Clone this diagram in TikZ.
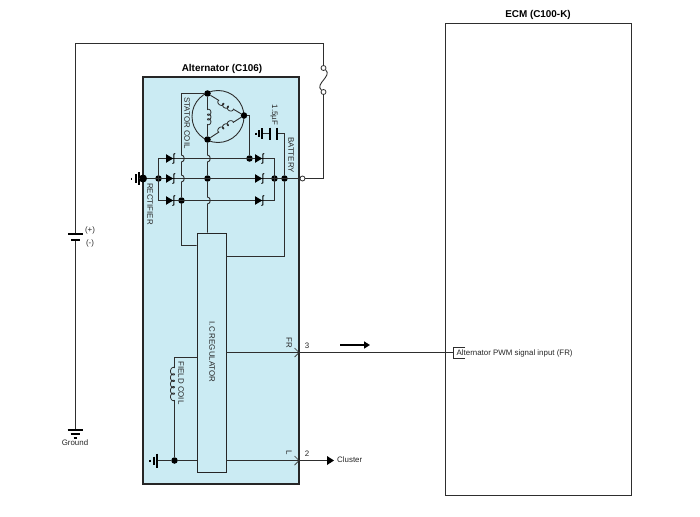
\documentclass[tikz,border=0pt]{standalone}
\usepackage{fontspec}
\setmainfont{Liberation Sans}
\usetikzlibrary{arrows.meta}
\definecolor{panel}{HTML}{CBEBF3}
\definecolor{wirec}{HTML}{2E2E2E}
\tikzset{
  wire/.style={draw=wirec,line width=0.9pt},
  plate/.style={draw=black,line width=1.2pt},
  dot/.style={circle,fill=black,inner sep=0pt,minimum size=6.5pt},
  bigdot/.style={circle,fill=black,inner sep=0pt,minimum size=8pt},
  ring/.style={circle,draw=wirec,fill=white,inner sep=0pt,minimum size=5pt,line width=0.8pt},
  lab/.style={font=\fontsize{7.9}{9}\selectfont,text=black!85,inner sep=0pt},
  rlab/.style={lab,rotate=-90},
  title/.style={font=\fontsize{9.9}{11}\selectfont\bfseries,inner sep=0pt}
}
\newcommand{\diodemark}[2]{%
  \fill[black] (#1-4,#2-4.3) -- (#1+3.2,#2) -- (#1-4,#2+4.3) -- cycle;
  \draw[black,line width=0.9pt] (#1+5.2,#2-5) -- (#1+3.8,#2-4.4) -- (#1+3.8,#2+4.4) -- (#1+2.4,#2+5);
}
% start point, screen angle, length, loops, side (+1/-1), bump size
\newcommand{\coilplot}[6]{%
  \begin{scope}[shift={#1},rotate=#2]
    \draw[wire,line width=0.8pt] plot[domain=0:360*#4,samples=40*#4]
      ({\x/(360*#4)*#3-#6*sin(\x)},{#5*#6*(1-cos(\x))});
  \end{scope}
}
\begin{document}
\begin{tikzpicture}[x=1pt,y=-1pt]
\useasboundingbox (0,0) rectangle (700,516);
% boxes
\node[draw=wirec,line width=0.9pt,minimum width=186pt,minimum height=472pt,inner sep=0pt] (ecm) at (538,259) {};
\node[title] (ecmt) at (538,15) {ECM (C100-K)};
\node[draw=black!85,fill=panel,line width=2pt,minimum width=156pt,minimum height=407pt,inner sep=0pt] (alt) at (221,280.5) {};
\node[title] (altt) at (222,69) {Alternator (C106)};
\node[draw=black!85,fill=panel,line width=0.9pt,minimum width=29pt,minimum height=239.5pt,inner sep=0pt] (ic) at (211.5,352.7) {};
\node[rlab] (icl) at (212,352) {I.C REGULATOR};
% stator
\draw[wire] (218,116.5) circle (26);
\node[dot] (st) at (207.5,93.5) {};
\node[dot] (sr) at (244,115.5) {};
\node[dot] (sb) at (207.5,139.5) {};
\coordinate (c1a) at (207.5,110); \coordinate (c1b) at (207.5,124);
\coordinate (c2a) at (219,100.5); \coordinate (c2b) at (233,109);
\coordinate (c3a) at (219,132); \coordinate (c3b) at (233,122.5);
\draw[wire] (st) -- (c1a) (c1b) -- (sb);
\draw[wire] (st) -- (c2a) (c2b) -- (sr);
\draw[wire] (sb) -- (c3a) (c3b) -- (sr);
\coilplot{(c1a)}{-90}{14}{3}{-1}{1.7}
\coilplot{(c2a)}{-31}{16.4}{3}{1}{1.7}
\coilplot{(c3a)}{34}{16.9}{3}{-1}{1.7}
% rectifier junctions
\node[bigdot] (gn) at (143,178.5) {};
\node[dot] (lb) at (158.5,178.5) {};
\node[dot] (mid) at (207.5,178.5) {};
\node[dot] (rtop) at (249.5,158.5) {};
\node[dot] (rb) at (274.5,178.5) {};
\node[dot] (bt) at (284.5,178.5) {};
\node[dot] (bot) at (181.5,200.5) {};
\node[ring] (term) at (302.5,178.5) {};
\coordinate (tl) at (158.5,158.5); \coordinate (tr) at (274.5,158.5);
\coordinate (bl) at (158.5,200.5); \coordinate (br) at (274.5,200.5);
\draw[wire] (tl) -- (tr) -- (br) -- (bl) -- cycle;
\draw[wire] (gn) -- (term);
% stator to rectifier
\draw[wire] (sr) -| (rtop);
\draw[wire] (st) -- (181.5,93.5) -- (181.5,155) .. controls (185.1,155) and (185.1,162) .. (181.5,162) -- (181.5,175) .. controls (185.1,175) and (185.1,182) .. (181.5,182) -- (bot) -- (181.5,245.5) -- (ic.west |- 0,245.5);
\draw[wire] (sb) -- (207.5,155) .. controls (211.1,155) and (211.1,162) .. (207.5,162) -- (mid) -- (207.5,197) .. controls (211.1,197) and (211.1,204) .. (207.5,204) -- (ic.north -| 207.5,0);
% diodes
\diodemark{170}{158.5}\diodemark{170}{178.5}\diodemark{170}{200.5}
\diodemark{259}{158.5}\diodemark{259}{178.5}\diodemark{259}{200.5}
% capacitor and ground
\coordinate (capg) at (262,133.5); \coordinate (capl) at (270,133.5); \coordinate (capr) at (277,133.5); \coordinate (capw) at (284.5,133.5);
\draw[wire] (capg) -- (capl) (capr) -- (capw) -- (bt);
\draw[plate] (270,127.5) -- (270,139.5) (277,127.5) -- (277,139.5);
\draw[plate] (262,128) -- (262,139) (259,130) -- (259,137) (256,132.5) -- (256,134.5);
\draw[wire] (bt) -- (284.5,256.5) -- (ic.east |- 0,256.5);
% left ground
\draw[plate] (139,172) -- (139,185) (136,174) -- (136,183) (131.5,177.5) -- (131.5,179.5);
\draw[wire] (139,178.5) -- (gn);
% field coil
\coordinate (fa) at (174.5,357.5); \coordinate (fc1) at (174.5,368); \coordinate (fc2) at (174.5,400);
\node[dot] (fg) at (174.5,460.5) {};
\draw[wire] (ic.west |- fa) -- (fa) -- (fc1) (fc2) -- (fg);
\coilplot{(fc1)}{-90}{32}{5}{1}{2}
\draw[wire] (157,460.5) -- (fg) -- (ic.west |- fg);
\draw[plate] (157,453.5) -- (157,467.5) (154,456.5) -- (154,464.5) (150,459.5) -- (150,461.5);
% outputs
\coordinate (frt) at (299,352.5); \coordinate (lt) at (299,460.5);
\coordinate (clu) at (330,460.5);
\coordinate (conn) at (453,352.5);
\draw[wire] (ic.east |- frt) -- (frt) -- (conn);
\draw[wire] (ic.east |- lt) -- (lt) -- (clu);
\fill[black] (327,456) -- (334,460.5) -- (327,465) -- cycle;
\draw[wire,line width=0.7pt] (294.5,348) -- (frt) -- (294.5,357);
\draw[wire,line width=0.7pt] (294.5,456) -- (lt) -- (294.5,465);
\draw[wire,line width=0.8pt] (465,347.5) -- (453.5,347.5) -- (453.5,358.5) -- (465,358.5);
\draw[black,line width=2pt,-{Triangle[length=6pt,width=7pt]}] (340,345) -- (370,345);
% left battery wire and fuse
\node[ring] (f1) at (323.5,68) {};
\node[ring] (f2) at (323.5,92) {};
\coordinate (b1) at (75.5,234); \coordinate (b2) at (75.5,240); \coordinate (g0) at (75.5,430);
\draw[wire] (b1) -- (75.5,43.5) -- (323.5,43.5) -- (f1);
\draw[wire] (f1) .. controls (332.5,76) and (314.5,84) .. (f2);
\draw[wire] (f2) -- (323.5,178.5) -- (term);
\draw[wire] (b2) -- (g0);
\draw[plate,line width=1.4pt] (68,234) -- (83,234);
\draw[plate,line width=1.4pt] (71,240) -- (80,240);
\draw[plate] (67.5,430) -- (83,430) (70.5,434) -- (80,434) (73.5,438) -- (77,438);
% labels
\node[rlab] at (187,123) {STATOR COIL};
\node[rlab] at (274,115) {1.5µF};
\node[rlab] at (291,155) {BATTERY};
\node[rlab] at (150,204) {RECTIFIER};
\node[rlab] at (181,383) {FIELD COIL};
\node[rlab] at (289,343) {FR};
\node[rlab] at (289,453) {L};
\node[lab] at (307,346) {3};
\node[lab] at (307,453.5) {2};
\node[lab,anchor=west] at (337,459.5) {Cluster};
\node[lab,anchor=west] at (456.5,353) {Alternator PWM signal input (FR)};
\node[lab] at (90,230) {(+)};
\node[lab] at (90,243) {(-)};
\node[lab] at (75,442.5) {Ground};
\end{tikzpicture}
\end{document}
